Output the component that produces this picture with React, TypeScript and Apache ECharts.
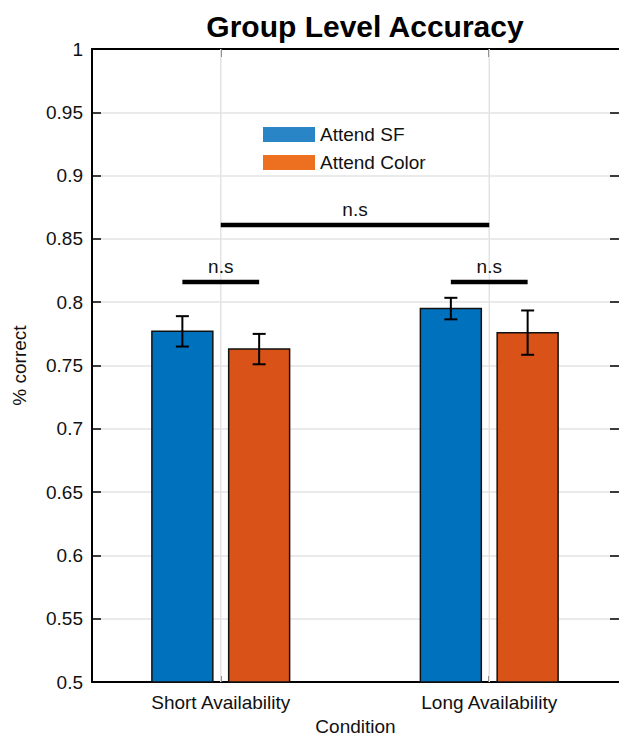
import React, { useEffect, useRef } from "react";
import * as echarts from "echarts";

const categories = ["Short Availability", "Long Availability"];
const seriesNames = ["Attend SF", "Attend Color"];
const attendSF = [0.777, 0.795];
const attendSFErr = [0.012, 0.0085];
const attendColor = [0.763, 0.776];
const attendColorErr = [0.012, 0.0175];
const yTicks = [0.5, 0.55, 0.6, 0.65, 0.7, 0.75, 0.8, 0.85, 0.9, 0.95, 1];
// significance brackets: within Short, within Long, between conditions
const sigLevels = [0.816, 0.816, 0.861];
const sigLabels = ["n.s", "n.s", "n.s"];

const FONT = "'Liberation Sans', Arial, Helvetica, sans-serif";
const FS = 19;
const BAR_OFFSET = 0.143;
const BAR_WIDTH = 0.227;
const CAP = 13;

export default function App() {
  const ref = useRef<HTMLDivElement>(null);
  useEffect(() => {
    if (!ref.current) return;
    const chart = echarts.init(ref.current, undefined, { renderer: "svg" });

    const barSeries = (name: string, values: number[], errs: number[], color: string, off: number) => ({
      type: "custom",
      name,
      xAxisIndex: 0,
      yAxisIndex: 0,
      itemStyle: { color },
      encode: { x: 0, y: 1 },
      data: values.map((v, i) => [i + 1, v, errs[i]]),
      z: 5,
      renderItem: (params: any, api: any) => {
        const x = api.value(0) + off;
        const v = api.value(1);
        const e = api.value(2);
        const base = api.coord([x, 0.5]);
        const top = api.coord([x, v]);
        const w = api.size([BAR_WIDTH, 0])[0];
        const eHi = api.coord([x, v + e]);
        const eLo = api.coord([x, v - e]);
        return {
          type: "group",
          children: [
            {
              type: "rect",
              shape: { x: top[0] - w / 2, y: top[1], width: w, height: base[1] - top[1] },
              style: { fill: color, stroke: "#111", lineWidth: 1.5 },
            },
            { type: "line", shape: { x1: eHi[0], y1: eHi[1], x2: eLo[0], y2: eLo[1] }, style: { stroke: "#000", lineWidth: 2 } },
            { type: "line", shape: { x1: eHi[0] - CAP / 2, y1: eHi[1], x2: eHi[0] + CAP / 2, y2: eHi[1] }, style: { stroke: "#000", lineWidth: 2 } },
            { type: "line", shape: { x1: eLo[0] - CAP / 2, y1: eLo[1], x2: eLo[0] + CAP / 2, y2: eLo[1] }, style: { stroke: "#000", lineWidth: 2 } },
          ],
        };
      },
    });

    const sigData = sigLevels.map((lvl, i) => {
      if (i < categories.length) return [i + 1 - BAR_OFFSET, i + 1 + BAR_OFFSET, lvl];
      return [1, categories.length, lvl];
    });

    const option: any = {
      animation: false,
      title: {
        text: "Group Level Accuracy",
        left: 360,
        top: 6,
        textAlign: "center",
        textStyle: { fontFamily: FONT, fontSize: 30, fontWeight: "bold", color: "#000" },
      },
      legend: {
        orient: "vertical",
        left: 258,
        top: 120,
        icon: "rect",
        itemWidth: 52,
        itemHeight: 15,
        itemGap: 9,
        textStyle: { fontFamily: FONT, fontSize: FS, color: "#111", lineHeight: 19, padding: [0, 0, 0, 0] },
        data: [
          { name: seriesNames[0], itemStyle: { color: "#2A85C6", borderWidth: 0 } },
          { name: seriesNames[1], itemStyle: { color: "#EC7020", borderWidth: 0 } },
        ],
      },
      grid: { left: 92, right: -1, top: 49, bottom: 47, containLabel: false },
      xAxis: [
        {
          type: "value",
          position: "bottom",
          min: 0.5204,
          max: 2.4833,
          name: "Condition",
          nameLocation: "middle",
          nameGap: 29,
          nameTextStyle: { fontFamily: FONT, fontSize: FS, color: "#111" },
          axisLine: { show: true, lineStyle: { color: "#000", width: 2 } },
          axisTick: { show: true, inside: true, length: 6, customValues: [1, 2], lineStyle: { color: "#000", width: 1.5 } },
          axisLabel: {
            show: true,
            customValues: [1, 2],
            margin: 11,
            fontFamily: FONT,
            fontSize: FS,
            color: "#111",
            formatter: (v: number) => categories[Math.round(v) - 1] ?? "",
          },
          splitLine: { show: false },
        },
        {
          type: "value",
          position: "top",
          min: 0.5204,
          max: 2.4833,
          axisLine: { show: true, lineStyle: { color: "#000", width: 2 } },
          axisTick: { show: true, inside: true, length: 8, customValues: [1, 2], lineStyle: { color: "#000", width: 1.5 } },
          axisLabel: { show: false },
          splitLine: { show: false },
        },
      ],
      yAxis: [
        {
          type: "value",
          position: "left",
          min: 0.5,
          max: 1,
          interval: 0.05,
          name: "% correct",
          nameLocation: "middle",
          nameGap: 63,
          nameTextStyle: { fontFamily: FONT, fontSize: FS, color: "#111" },
          axisLine: { show: true, lineStyle: { color: "#000", width: 2 } },
          axisTick: { show: true, inside: true, length: 9, lineStyle: { color: "#000", width: 1.5 } },
          axisLabel: {
            fontFamily: FONT,
            fontSize: FS,
            color: "#111",
            margin: 9,
            formatter: (v: number) => {
              const t = yTicks.find((k) => Math.abs(k - v) < 1e-6);
              return t === undefined ? "" : String(t);
            },
          },
          splitLine: { show: true, lineStyle: { color: "#E3E3E3", width: 1.5 } },
        },
        {
          type: "value",
          position: "right",
          min: 0.5,
          max: 1,
          interval: 0.05,
          axisLine: { show: false },
          axisTick: { show: true, inside: true, length: 9, lineStyle: { color: "#000", width: 1.5 } },
          axisLabel: { show: false },
          splitLine: { show: false },
        },
      ],
      series: [
        {
          type: "custom",
          name: "vgrid",
          xAxisIndex: 0,
          yAxisIndex: 0,
          encode: { x: 0 },
          data: categories.map((_, i) => [i + 1]),
          z: 1,
          silent: true,
          renderItem: (params: any, api: any) => {
            const a = api.coord([api.value(0), 0.5]);
            const b = api.coord([api.value(0), 1]);
            return { type: "line", shape: { x1: a[0], y1: a[1], x2: b[0], y2: b[1] }, style: { stroke: "#E3E3E3", lineWidth: 1.5 } };
          },
        },
        barSeries(seriesNames[0], attendSF, attendSFErr, "#0072BD", -BAR_OFFSET),
        barSeries(seriesNames[1], attendColor, attendColorErr, "#D95319", BAR_OFFSET),
        {
          type: "custom",
          name: "sig",
          xAxisIndex: 0,
          yAxisIndex: 0,
          encode: { x: [0, 1], y: 2 },
          data: sigData,
          z: 6,
          renderItem: (params: any, api: any) => {
            const a = api.coord([api.value(0), api.value(2)]);
            const b = api.coord([api.value(1), api.value(2)]);
            return {
              type: "group",
              children: [
                { type: "line", shape: { x1: a[0], y1: a[1], x2: b[0], y2: b[1] }, style: { stroke: "#000", lineWidth: 4.5 } },
                {
                  type: "text",
                  x: (a[0] + b[0]) / 2,
                  y: a[1] - 6,
                  style: {
                    text: sigLabels[params.dataIndex],
                    align: "center",
                    verticalAlign: "bottom",
                    fontFamily: FONT,
                    fontSize: FS,
                    fill: "#111",
                  },
                },
              ],
            };
          },
        },
      ],
    };
    chart.setOption(option);
    return () => chart.dispose();
  }, []);
  return <div ref={ref} style={{ position: "absolute", left: 0, top: 0, width: 619, height: 741, background: "#fff" }} />;
}
